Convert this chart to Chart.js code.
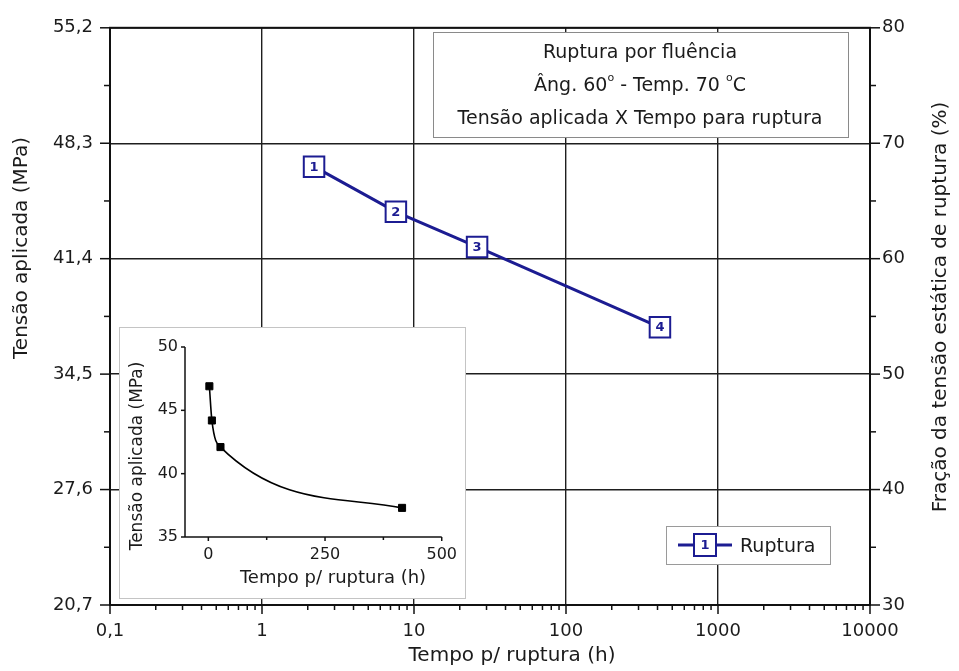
<!DOCTYPE html>
<html>
<head>
<meta charset="utf-8">
<script src="https://cdn.jsdelivr.net/npm/chart.js@4.4.1/dist/chart.umd.min.js"></script>
<style>
  html, body { margin: 0; padding: 0; background: #fff; }
  #wrap { position: relative; width: 959px; height: 671px; overflow: hidden; }
  #mainChart { position: absolute; left: 0; top: 0; }
  #insetBox { position: absolute; left: 119px; top: 327px; width: 345px; height: 270px;
              border: 1px solid #c4c4c4; background: #fff; }
  #insetChart { display: block; }
</style>
</head>
<body>
<div id="wrap">
  <canvas id="mainChart" width="959" height="671"></canvas>
  <div id="insetBox"><canvas id="insetChart" width="345" height="270"></canvas></div>
</div>
<script>
// creep rupture tests: time to rupture (h) vs applied stress (MPa)
const pointNames = ['1', '2', '3', '4'];
const ruptureHours = [2.2, 7.6, 26, 415];
const appliedStress = [46.9, 44.2, 42.1, 37.3];

const timeTicks = [0.1, 1, 10, 100, 1000, 10000];
const stressTicks = [20.7, 27.6, 34.5, 41.4, 48.3, 55.2];
const fractionTicks = [30, 40, 50, 60, 70, 80];
const insetTimeTicks = [0, 250, 500];
const insetStressTicks = [35, 40, 45, 50];

const seriesName = 'Ruptura';
const titleX = 'Tempo p/ ruptura (h)';
const titleY = 'Tensão aplicada (MPa)';
const titleY2 = 'Fração da tensão estática de ruptura (%)';
// info box lines; [text, superscript]
const infoLines = [
  [['Ruptura por fluência', false]],
  [['Âng. 60', false], ['o', true], [' - Temp. 70 ', false], ['o', true], ['C', false]],
  [['Tensão aplicada X Tempo para ruptura', false]],
];

const FONT = "'DejaVu Sans', Verdana, sans-serif";
const ink = '#1b1b1b';
const navy = '#1c1c92';

const commaNum = v => String(v).replace('.', ',');

function tick(ctx, x, y, dx, dy) {
  ctx.beginPath();
  ctx.moveTo(x, y);
  ctx.lineTo(x + dx, y + dy);
  ctx.stroke();
}

function drawRich(ctx, parts, cx, cy, size) {
  const sup = Math.round(size * 0.6);
  let total = 0;
  parts.forEach(([t, s]) => {
    ctx.font = (s ? sup : size) + 'px ' + FONT;
    total += ctx.measureText(t).width;
  });
  let x = cx - total / 2;
  ctx.textAlign = 'left';
  ctx.textBaseline = 'middle';
  parts.forEach(([t, s]) => {
    ctx.font = (s ? sup : size) + 'px ' + FONT;
    ctx.fillText(t, x, s ? cy - size * 0.42 : cy);
    x += ctx.measureText(t).width;
  });
}

function rotatedText(ctx, text, x, y, font) {
  ctx.save();
  ctx.translate(x, y);
  ctx.rotate(-Math.PI / 2);
  ctx.font = font;
  ctx.textAlign = 'center';
  ctx.textBaseline = 'middle';
  ctx.fillText(text, 0, 0);
  ctx.restore();
}

const mainDecor = {
  id: 'mainDecor',
  beforeDatasetsDraw(chart) {
    const ctx = chart.ctx;
    ctx.save();
    // info box
    ctx.fillStyle = '#fff';
    ctx.fillRect(433, 32, 415, 105);
    ctx.strokeStyle = '#8a8a8a';
    ctx.lineWidth = 1;
    ctx.strokeRect(433.5, 32.5, 415, 105);
    ctx.fillStyle = ink;
    infoLines.forEach((parts, i) => drawRich(ctx, parts, 640, 53 + i * 33, 19));

    // legend
    ctx.fillStyle = '#fff';
    ctx.fillRect(666, 526, 164, 38);
    ctx.strokeStyle = '#9a9a9a';
    ctx.strokeRect(666.5, 526.5, 164, 38);
    const ds = chart.data.datasets[0];
    ctx.strokeStyle = ds.borderColor;
    ctx.lineWidth = ds.borderWidth;
    tick(ctx, 678, 545, 54, 0);
    ctx.fillStyle = '#fff';
    ctx.fillRect(694, 534, 22, 22);
    ctx.lineWidth = 2;
    ctx.strokeRect(694, 534, 22, 22);
    ctx.fillStyle = navy;
    ctx.font = 'bold 13px ' + FONT;
    ctx.textAlign = 'center';
    ctx.textBaseline = 'middle';
    ctx.fillText(pointNames[0], 705, 545.5);
    ctx.fillStyle = ink;
    ctx.font = '19px ' + FONT;
    ctx.textAlign = 'left';
    ctx.fillText(ds.label, 740, 547);
    ctx.restore();
  },
  afterDatasetsDraw(chart) {
    const ctx = chart.ctx;
    const meta = chart.getDatasetMeta(0);
    ctx.save();
    ctx.fillStyle = navy;
    ctx.font = 'bold 13px ' + FONT;
    ctx.textAlign = 'center';
    ctx.textBaseline = 'middle';
    meta.data.forEach((pt, i) => ctx.fillText(pointNames[i], pt.x, pt.y + 0.5));
    ctx.restore();
  },
  afterDraw(chart) {
    const ctx = chart.ctx;
    const ca = chart.chartArea;
    const { x, y, y2 } = chart.scales;
    ctx.save();
    ctx.strokeStyle = '#111';
    ctx.lineWidth = 2;
    ctx.strokeRect(ca.left, ca.top, ca.right - ca.left, ca.bottom - ca.top);

    ctx.lineWidth = 1.5;
    timeTicks.forEach((d, i) => {
      tick(ctx, x.getPixelForValue(d), ca.bottom, 0, 9);
      if (i < timeTicks.length - 1) {
        for (let k = 2; k <= 9; k++) tick(ctx, x.getPixelForValue(d * k), ca.bottom, 0, 5);
      }
    });
    stressTicks.forEach((v, i) => {
      tick(ctx, ca.left, y.getPixelForValue(v), -10, 0);
      if (i < stressTicks.length - 1) {
        tick(ctx, ca.left, y.getPixelForValue((v + stressTicks[i + 1]) / 2), -6, 0);
      }
    });
    fractionTicks.forEach((v, i) => {
      tick(ctx, ca.right, y2.getPixelForValue(v), 10, 0);
      if (i < fractionTicks.length - 1) {
        tick(ctx, ca.right, y2.getPixelForValue((v + fractionTicks[i + 1]) / 2), 6, 0);
      }
    });

    // axis titles
    ctx.fillStyle = ink;
    rotatedText(ctx, titleY, 22, 248, '20px ' + FONT);
    rotatedText(ctx, titleY2, 941, 307, '20px ' + FONT);
    ctx.font = '20px ' + FONT;
    ctx.textAlign = 'center';
    ctx.textBaseline = 'middle';
    ctx.fillText(titleX, 512, 656);
    ctx.restore();
  },
};

const tickFont = { family: FONT, size: 18 };

new Chart(document.getElementById('mainChart'), {
  type: 'scatter',
  data: {
    datasets: [{
      label: seriesName,
      data: ruptureHours.map((h, i) => ({ x: h, y: appliedStress[i] })),
      showLine: true,
      borderColor: navy,
      borderWidth: 3,
      pointStyle: 'rect',
      pointRadius: 14.5,
      pointHoverRadius: 14.5,
      pointBackgroundColor: '#fff',
      pointBorderColor: navy,
      pointBorderWidth: 2,
      yAxisID: 'y',
    }],
  },
  options: {
    responsive: false,
    animation: false,
    events: [],
    layout: { padding: { top: 26, left: 0, right: 0, bottom: 0 }, autoPadding: false },
    plugins: { legend: { display: false }, tooltip: { enabled: false } },
    scales: {
      x: {
        type: 'logarithmic',
        min: 0.1,
        max: 10000,
        afterBuildTicks: s => { s.ticks = timeTicks.map(v => ({ value: v })); },
        afterFit: s => { s.height = 66; },
        ticks: { callback: v => commaNum(v), font: tickFont, color: ink, padding: 16, maxRotation: 0, autoSkip: false },
        grid: { color: '#1e1e1e', lineWidth: 1.4, drawTicks: false },
        border: { display: false },
      },
      y: {
        min: 20.7,
        max: 55.2,
        afterBuildTicks: s => { s.ticks = stressTicks.map(v => ({ value: v })); },
        afterFit: s => { s.width = 110; },
        ticks: { callback: v => v.toFixed(1).replace('.', ','), font: tickFont, color: ink, padding: 17 },
        grid: { color: '#1e1e1e', lineWidth: 1.4, drawTicks: false },
        border: { display: false },
      },
      y2: {
        position: 'right',
        min: 30,
        max: 80,
        afterBuildTicks: s => { s.ticks = fractionTicks.map(v => ({ value: v })); },
        afterFit: s => { s.width = 89; },
        ticks: { font: tickFont, color: ink, padding: 12 },
        grid: { display: false, drawTicks: false },
        border: { display: false },
      },
    },
  },
  plugins: [mainDecor],
});

// inset: same tests on a linear time axis
const insetDecor = {
  id: 'insetDecor',
  afterDraw(chart) {
    const ctx = chart.ctx;
    const ca = chart.chartArea;
    const { x, y } = chart.scales;
    ctx.save();
    ctx.strokeStyle = '#111';
    ctx.lineWidth = 1.5;
    tick(ctx, ca.left, ca.top, 0, ca.bottom - ca.top);
    tick(ctx, ca.left, ca.bottom, ca.right - ca.left, 0);
    insetTimeTicks.forEach((v, i) => {
      tick(ctx, x.getPixelForValue(v), ca.bottom, 0, 4);
      if (i < insetTimeTicks.length - 1) {
        tick(ctx, x.getPixelForValue((v + insetTimeTicks[i + 1]) / 2), ca.bottom, 0, 3);
      }
    });
    insetStressTicks.forEach(v => tick(ctx, ca.left, y.getPixelForValue(v), -4, 0));

    ctx.fillStyle = ink;
    rotatedText(ctx, titleY, 18, 128, '17px ' + FONT);
    ctx.font = '18px ' + FONT;
    ctx.textAlign = 'center';
    ctx.textBaseline = 'middle';
    ctx.fillText(titleX, 213, 250);
    ctx.restore();
  },
};

const insetFont = { family: FONT, size: 16 };

new Chart(document.getElementById('insetChart'), {
  type: 'scatter',
  data: {
    datasets: [{
      data: ruptureHours.map((h, i) => ({ x: h, y: appliedStress[i] })),
      showLine: true,
      cubicInterpolationMode: 'monotone',
      borderColor: '#000',
      borderWidth: 1.6,
      pointStyle: 'rect',
      pointRadius: 5,
      pointHoverRadius: 5,
      pointBackgroundColor: '#000',
      pointBorderColor: '#000',
      pointBorderWidth: 1,
    }],
  },
  options: {
    responsive: false,
    animation: false,
    events: [],
    layout: { padding: { top: 19, left: 0, right: 23, bottom: 0 }, autoPadding: false },
    plugins: { legend: { display: false }, tooltip: { enabled: false } },
    scales: {
      x: {
        type: 'linear',
        min: -50,
        max: 500,
        afterBuildTicks: s => { s.ticks = insetTimeTicks.map(v => ({ value: v })); },
        afterFit: s => { s.height = 61; },
        ticks: { font: insetFont, color: ink, padding: 8, maxRotation: 0 },
        grid: { display: false, drawTicks: false },
        border: { display: false },
      },
      y: {
        min: 35,
        max: 50,
        afterBuildTicks: s => { s.ticks = insetStressTicks.map(v => ({ value: v })); },
        afterFit: s => { s.width = 65; },
        ticks: { font: insetFont, color: ink, padding: 7 },
        grid: { display: false, drawTicks: false },
        border: { display: false },
      },
    },
  },
  plugins: [insetDecor],
});
</script>
</body>
</html>
